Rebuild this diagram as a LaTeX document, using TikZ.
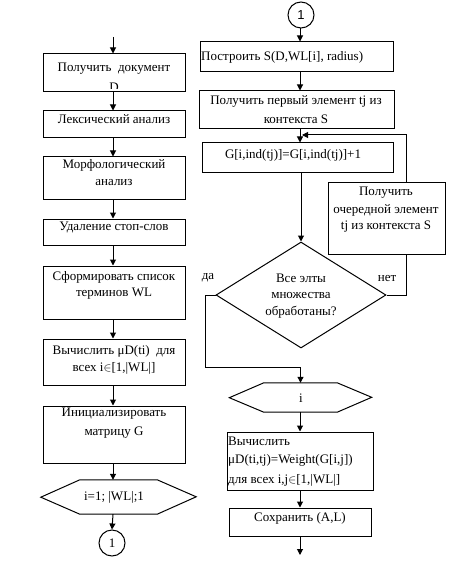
\documentclass[tikz,border=0pt]{standalone}
\usepackage{fontspec}
\setmainfont{Liberation Serif}
\newfontfamily\arialf{Liberation Sans}
\usetikzlibrary{arrows.meta,shapes.geometric}
\begin{document}
\begin{tikzpicture}[x=1pt,y=-1pt,
  box/.style={draw,line width=1pt,inner sep=0pt},
  arr/.style={line width=1pt,-{Triangle[length=6pt,width=6pt]}},
  ln/.style={line width=1pt},
  txt/.style={inner sep=0pt,font=\fontsize{13}{15}\selectfont}]
\useasboundingbox (0,0) rectangle (448,561);
\coordinate (axl) at (113,0);
\coordinate (axr) at (300,0);
\coordinate (top) at (113,37);
% left column
\node[box,minimum width=142pt,minimum height=38pt] (b1) at (114,73) {};
\node[box,minimum width=142pt,minimum height=27pt] (b2) at (114,124.5) {};
\node[box,minimum width=142pt,minimum height=42pt] (b3) at (114,178) {};
\node[box,minimum width=142pt,minimum height=26pt] (b4) at (114,232) {};
\node[box,minimum width=142pt,minimum height=53pt] (b5) at (114,292.5) {};
\node[box,minimum width=142pt,minimum height=46pt] (b6) at (114,362) {};
\node[box,minimum width=142pt,minimum height=57pt] (b7) at (114,434.5) {};
\node[inner sep=0pt,minimum width=77pt,minimum height=34pt] (h1) at (118.5,497) {};
\draw[ln] (h1.north west) -- (h1.north east) -- ++(39,17) -- (h1.south east) -- (h1.south west) -- ++(-39,-17) -- cycle;
\node[draw,ln,circle,minimum size=26pt,inner sep=0pt,txt] (c1) at (112,543) {1};
% left texts
\node[txt] at (114,69) {Получить\ \ документ};
\begin{scope}
\clip (40,54) rectangle (190,89);
\node[txt] at (114,87) {D};
\end{scope}
\node[txt] at (114,119) {Лексический анализ};
\node[txt] at (114,165) {Морфологический};
\node[txt] at (114,183) {анализ};
\node[txt] at (114,228) {Удаление стоп-слов};
\node[txt] at (114,277) {Сформировать список};
\node[txt] at (114,294) {терминов WL};
\node[txt] at (114,351) {Вычислить μD(ti)\ \ для};
\node[txt] at (114,368) {всех i$\in$[1,|WL|]};
\node[txt] at (114,414) {Инициализировать};
\node[txt] at (114,433) {матрицу G};
\node[txt] at (114,497) {i=1; |WL|;1};
% left arrows
\draw[arr] (top) -- (b1.north -| axl);
\draw[arr] (b1.south -| axl) -- (b2.north -| axl);
\draw[arr] (b2.south -| axl) -- (b3.north -| axl);
\draw[arr] (b3.south -| axl) -- (b4.north -| axl);
\draw[arr] (b4.south -| axl) -- (b5.north -| axl);
\draw[arr] (b5.south -| axl) -- (b6.north -| axl);
\draw[arr] (b6.south -| axl) -- (b7.north -| axl);
\draw[arr] (b7.south -| axl) -- (h1.north -| axl);
\draw[arr] (h1.south -| axl) -- (c1.north);
% right column
\node[draw,ln,circle,minimum size=26pt,inner sep=0pt,font=\arialf\fontsize{13}{15}\selectfont] (c2) at (301,15) {1};
\node[box,minimum width=193pt,minimum height=30pt] (A) at (296.5,57) {};
\node[box,minimum width=195pt,minimum height=38pt] (B) at (296.5,110) {};
\node[box,minimum width=191pt,minimum height=30pt] (G) at (297.5,158) {};
\node[box,minimum width=117pt,minimum height=71pt] (C) at (386.5,218.5) {};
\node[draw,ln,diamond,inner sep=0pt,minimum width=170pt,minimum height=106pt] (dia) at (301,295) {};
\node[inner sep=0pt,minimum width=73pt,minimum height=29pt] (h2) at (300.5,397.5) {};
\draw[ln] (h2.north west) -- (h2.north east) -- ++(34.5,14.5) -- (h2.south east) -- (h2.south west) -- ++(-34.5,-14.5) -- cycle;
\node[box,minimum width=146pt,minimum height=58pt] (D) at (300,461) {};
\node[box,minimum width=142pt,minimum height=28pt] (E) at (300,522) {};
\coordinate (endr) at (300,555);
\coordinate (fbx) at (406,0);
\coordinate (merge) at (302,135);
\coordinate (yc) at (205,367);
% right texts
\node[txt,anchor=west] at (201,57) {Построить S(D,WL[i], radius)};
\node[txt] at (296,101) {Получить первый элемент tj из};
\node[txt] at (296,119) {контекста S};
\node[txt] at (293,155) {G[i,ind(tj)]=G[i,ind(tj)]+1};
\node[txt] at (386,193) {Получить};
\node[txt] at (386,210) {очередной элемент};
\node[txt] at (386,227) {tj из контекста S};
\node[txt] at (301,278) {Все элты};
\node[txt] at (301,295) {множества};
\node[txt] at (301,312) {обработаны?};
\node[txt] at (208,278) {да};
\node[txt] at (387,278) {нет};
\node[txt] at (301,398) {i};
\node[txt,anchor=west] at (228,441) {Вычислить};
\node[txt,anchor=west] at (228,460) {μD(ti,tj)=Weight(G[i,j])};
\node[txt,anchor=west] at (228,480) {для всех i,j$\in$[1,|WL|]};
\node[txt] at (300,518) {Сохранить (A,L)};
% right arrows
\draw[arr] (c2.south -| axr) -- (A.north -| axr);
\draw[arr] (A.south -| axr) -- (B.north -| axr);
\draw[arr] (B.south -| axr) -- (G.north -| axr);
\draw[arr] (G.south -| dia.north) -- (dia.north);
\draw[arr] (C.north -| fbx) |- (merge);
\draw[ln] (dia.east) -| (C.south -| fbx);
\draw[arr] (dia.west) -| (yc) -| (h2.north);
\draw[arr] (h2.south -| axr) -- (D.north -| axr);
\draw[arr] (D.south -| axr) -- (E.north -| axr);
\draw[arr] (E.south -| axr) -- (endr);
\end{tikzpicture}
\end{document}
